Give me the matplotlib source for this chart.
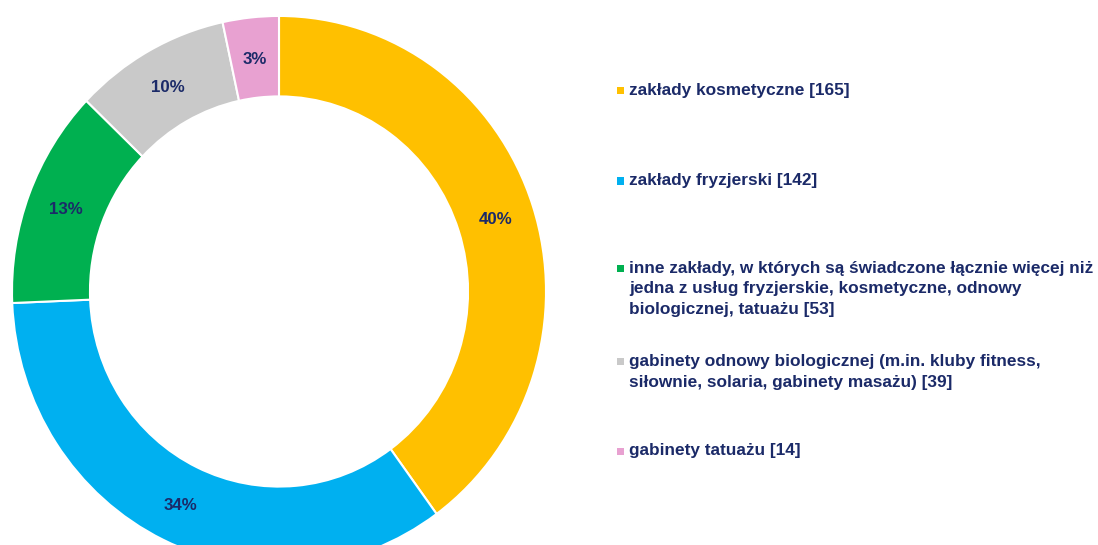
import numpy
from matplotlib import pyplot
from matplotlib.patches import Rectangle

# Dane
kategorie = [
    'zakłady kosmetyczne [165]',
    'zakłady fryzjerski [142]',
    'inne zakłady, w których są świadczone łącznie więcej niż\njedna z usług fryzjerskie, kosmetyczne, odnowy\nbiologicznej, tatuażu [53]',
    'gabinety odnowy biologicznej (m.in. kluby fitness,\nsiłownie, solaria, gabinety masażu) [39]',
    'gabinety tatuażu [14]',
]
wartosci = [165, 142, 53, 39, 14]
etykiety_proc = ['40%', '34%', '13%', '10%', '3%']
kolory = ['#FFC000', '#00B0F0', '#00B050', '#C9C9C9', '#E8A1D1']
legenda_y = [90, 181, 289, 372, 451]

granat = '#1B2A68'
W, H = 1098, 545

fig = pyplot.figure(figsize=(W / 100, H / 100), dpi=100)
ax = fig.add_axes([0, 0, 1, 1])

# wykres jest lekko rozciągnięty w pionie
s = 1.032
cx, cy, R = 279, (H - 291.5) / s, 267
szer = 0.292
wedges, _ = ax.pie(wartosci, colors=kolory, startangle=90, counterclock=False,
                   center=(cx, cy), radius=R,
                   wedgeprops=dict(width=R * szer, edgecolor='white', linewidth=1.5))

# Etykiety procentowe w środku pierścienia
r_mid = R * (1 - szer / 2)
for w, lab in zip(wedges, etykiety_proc):
    ang = numpy.deg2rad((w.theta1 + w.theta2) / 2)
    ax.text(cx + r_mid * numpy.cos(ang), cy + r_mid * numpy.sin(ang) - 1.5, lab,
            ha='center', va='center', fontsize=12.2, fontweight='bold',
            color=granat, family='Liberation Sans')

ax.set_xlim(0, W)
ax.set_ylim(0, H / s)
ax.set_aspect('auto')
ax.axis('off')

# Legenda
for y, kat, kol in zip(legenda_y, kategorie, kolory):
    n = kat.count('\n')
    ytop = 1 - (y - n * 10.5) / H
    fig.patches.append(Rectangle((617 / W, ytop - 3.5 / H), 7 / W, 7 / H,
                                 transform=fig.transFigure, color=kol, lw=0))
    fig.text(629 / W, 1 - y / H, kat, ha='left', va='center', fontsize=12.4,
             fontweight='bold', color=granat, family='Liberation Sans',
             linespacing=1.47)

pyplot.savefig('out.png', dpi=100)
pyplot.close()
